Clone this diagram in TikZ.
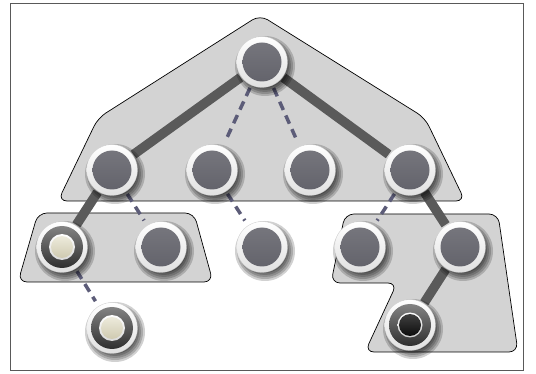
\documentclass[tikz,border=0pt]{standalone}
\pgfdeclarelayer{bg}
\pgfdeclarelayer{edges}
\pgfdeclarelayer{shadowl}
\pgfsetlayers{bg,edges,shadowl,main}
\definecolor{grp}{HTML}{D3D3D3}
\definecolor{edgegray}{HTML}{5A5A5A}
\definecolor{dashc}{HTML}{5C5C78}
\definecolor{disktop}{HTML}{78787F}
\definecolor{diskbot}{HTML}{616169}
\definecolor{beigetop}{HTML}{EDEBDC}
\definecolor{beigebot}{HTML}{CFCAB0}
\tikzset{
  group/.style={fill=grp, draw=black, line width=0.7pt, rounded corners=9pt},
  thickedge/.style={draw=edgegray, line width=9.5pt, shorten <=1pt, shorten >=1pt},
  dashedge/.style={draw=dashc, line width=3.5pt, dash pattern=on 9pt off 6pt, shorten <=3pt, shorten >=6pt},
  ringbase/.style={circle, minimum size=51pt, inner sep=0pt, outer sep=0pt,
    top color=white, bottom color=black!12, draw=black!20, line width=0.3pt},
  gnode/.style={ringbase, path picture={
     \shade[top color=disktop, bottom color=diskbot] (path picture bounding box.center) circle (19.5pt);}},
  bnode/.style={ringbase, path picture={
     \shade[top color=black!45, bottom color=black!85] (path picture bounding box.center) circle (21pt);
     \shade[top color=white, bottom color=black!15] (path picture bounding box.center) circle (13pt);
     \shade[top color=beigetop, bottom color=beigebot] (path picture bounding box.center) circle (11pt);}},
  knode/.style={ringbase, path picture={
     \shade[top color=black!45, bottom color=black!85] (path picture bounding box.center) circle (21pt);
     \shade[top color=white, bottom color=black!20] (path picture bounding box.center) circle (12.5pt);
     \shade[top color=black!75, bottom color=black!95] (path picture bounding box.center) circle (11pt);}},
}
\begin{document}
\begin{tikzpicture}[x=1pt, y=-1pt]
\useasboundingbox (0,0) rectangle (536,374);

% groups
\begin{pgfonlayer}{bg}
\fill[white] (0,0) rectangle (536,374);
\draw[black!65, line width=1pt] (10,4) rectangle (523,370);
\draw[group] (260,15) -- (425,118) -- (465,201) -- (58,201) -- (98,118) -- cycle;
\draw[group] (38,213) -- (194,213) -- (213,282) -- (18,282) -- cycle;
\draw[group] (345,214) -- (498,214) -- (518,352) -- (365,352) -- (397,283) -- (331,283) -- cycle;
\end{pgfonlayer}

% nodes
\node[gnode] (r) at (262,62) {};
\node[gnode] (a) at (112,170) {};
\node[gnode] (b) at (212,170) {};
\node[gnode] (c) at (310,170) {};
\node[gnode] (d) at (410,170) {};
\node[bnode] (aa) at (62,247) {};
\node[gnode] (ab) at (161,247) {};
\node[gnode] (bc) at (262,247) {};
\node[gnode] (da) at (360,247) {};
\node[gnode] (db) at (460,247) {};
\node[bnode] (aaa) at (112,328) {};
\node[knode] (dba) at (410,325) {};

% shadows
\begin{pgfonlayer}{shadowl}
\foreach \n in {r,a,b,c,d,aa,ab,bc,da,db,aaa,dba}{
  \foreach \rr in {22,24,26,28,30}{
    \fill[black, opacity=0.18] ([shift={(3pt,-4pt)}]\n.center) circle (\rr pt);
  }
}
\end{pgfonlayer}

% edges
\begin{pgfonlayer}{edges}
\draw[thickedge] (r) -- (a);
\draw[dashedge] (r) -- (b);
\draw[dashedge] (r) -- (c);
\draw[thickedge] (r) -- (d);
\draw[thickedge] (a) -- (aa);
\draw[dashedge] (a) -- (ab);
\draw[dashedge] (b) -- (bc);
\draw[dashedge] (d) -- (da);
\draw[thickedge] (d) -- (db);
\draw[dashedge] (aa) -- (aaa);
\draw[thickedge] (db) -- (dba);
\end{pgfonlayer}
\end{tikzpicture}
\end{document}
